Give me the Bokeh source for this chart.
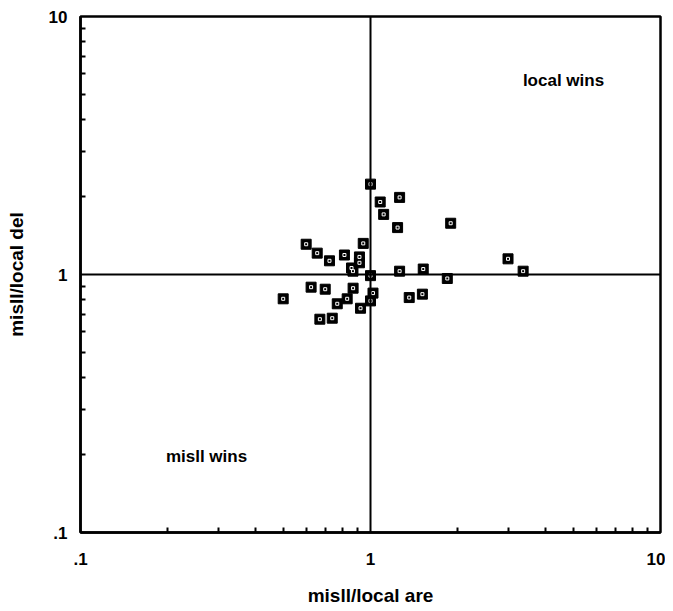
from bokeh.plotting import figure
from bokeh.models import Span, FixedTicker, Label
from bokeh.embed import file_html
from bokeh.resources import INLINE

# ratio data (misll/local)
are_ratio = [1.00, 1.26, 1.08, 1.11, 1.24, 1.89, 0.944, 0.60, 0.655, 0.722, 0.813, 0.916,
             0.916, 0.86, 0.87, 1.00, 1.26, 1.52, 1.84, 2.98, 3.36, 0.50, 0.624, 0.698,
             0.871, 0.831, 0.768, 1.02, 1.00, 0.924, 0.669, 0.738, 1.36, 1.51]
del_ratio = [2.24, 1.99, 1.91, 1.71, 1.52, 1.58, 1.32, 1.31, 1.21, 1.13, 1.19, 1.17,
             1.11, 1.06, 1.03, 0.99, 1.03, 1.05, 0.965, 1.15, 1.03, 0.805, 0.893, 0.877,
             0.885, 0.805, 0.77, 0.847, 0.79, 0.74, 0.671, 0.677, 0.814, 0.839]

tick_values = [0.1, 1, 10]
tick_labels = [".1", "1", "10"]
minor_values = [0.2, 0.3, 0.4, 0.5, 0.6, 0.7, 0.8, 0.9, 2, 3, 4, 5, 6, 7, 8, 9]

region_labels = ["local wins", "misll wins"]
region_x = [4.63, 0.272]
region_y = [5.65, 0.197]

FONT = "Liberation Sans"

p = figure(width=665, height=611, x_axis_type="log", y_axis_type="log",
           x_range=(0.1, 10), y_range=(0.1, 10),
           output_backend="svg", toolbar_location=None,
           min_border_left=80, min_border_right=5, min_border_top=16, min_border_bottom=79)

p.xgrid.visible = False
p.ygrid.visible = False
p.outline_line_color = "black"
p.outline_line_width = 2.5
p.background_fill_color = "white"
p.border_fill_color = "white"

for ax, lab in ((p.xaxis[0], "misll/local are"), (p.yaxis[0], "misll/local del")):
    ax.ticker = FixedTicker(ticks=tick_values, minor_ticks=minor_values)
    ax.major_label_overrides = dict(zip(tick_values, tick_labels))
    ax.axis_label = lab
    ax.axis_label_text_font = FONT
    ax.axis_label_text_font_style = "bold"
    ax.axis_label_text_font_size = "19px"
    ax.axis_label_text_color = "black"
    ax.major_label_text_font = FONT
    ax.major_label_text_font_style = "bold"
    ax.major_label_text_font_size = "17px"
    ax.major_label_text_color = "black"
    ax.axis_line_color = "black"
    ax.axis_line_width = 2.5
    ax.major_tick_in = 0
    ax.major_tick_out = 0
    ax.minor_tick_in = 5
    ax.minor_tick_out = 0
    ax.minor_tick_line_color = "black"
    ax.minor_tick_line_width = 2

p.xaxis.major_label_standoff = 20
p.xaxis.axis_label_standoff = 17
p.yaxis.major_label_standoff = 13
p.yaxis.axis_label_standoff = 19

p.add_layout(Span(location=1, dimension="height", line_color="black", line_width=2))
p.add_layout(Span(location=1, dimension="width", line_color="black", line_width=2))

p.scatter(are_ratio, del_ratio, marker="square", size=10, fill_color="black",
          line_color="black", line_width=1)
p.scatter(are_ratio, del_ratio, marker="square", size=3, fill_color=None,
          line_color="white", line_width=1)

for t, x, y in zip(region_labels, region_x, region_y):
    p.add_layout(Label(x=x, y=y, text=t, text_font=FONT, text_font_style="bold",
                       text_font_size="17px", text_align="center", text_baseline="middle",
                       text_color="black"))

open("out.html", "w").write(file_html(p, INLINE))
